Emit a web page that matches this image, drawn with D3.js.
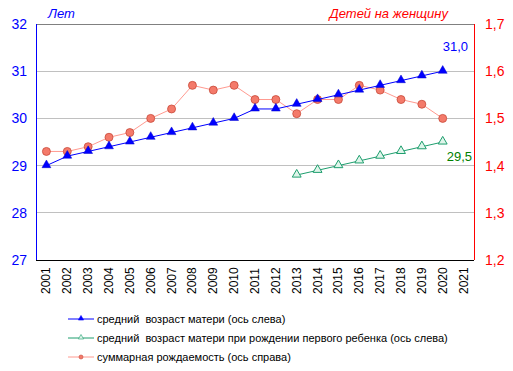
<!DOCTYPE html>
<html>
<head>
<meta charset="utf-8">
<script src="https://cdn.jsdelivr.net/npm/d3@7"></script>
<style>
  body { margin: 0; background: #fff; }
  svg { font-family: Arial, "Liberation Sans", sans-serif; display: block; }
</style>
</head>
<body>
<div id="chart"></div>
<script>
// ---- data ----
const years = d3.range(2001, 2022).map(String);
const motherAge = [29.0, 29.2, 29.3, 29.4, 29.5, 29.6, 29.7, 29.8, 29.9, 30.0,
                   30.2, 30.2, 30.3, 30.4, 30.5, 30.6, 30.7, 30.8, 30.9, 31.0];
const firstChildYears = ["2013", "2014", "2015", "2016", "2017", "2018", "2019", "2020"];
const firstChildAge = [28.8, 28.9, 29.0, 29.1, 29.2, 29.3, 29.4, 29.5];
const fertility = [1.43, 1.43, 1.44, 1.46, 1.47, 1.50, 1.52, 1.57, 1.56, 1.57,
                   1.54, 1.54, 1.51, 1.54, 1.54, 1.57, 1.56, 1.54, 1.53, 1.50];
const leftTicks = [27, 28, 29, 30, 31, 32];
const rightTicks = [1.2, 1.3, 1.4, 1.5, 1.6, 1.7];
const legendItems = [
  "средний  возраст матери (ось слева)",
  "средний  возраст матери при рождении первого ребенка (ось слева)",
  "суммарная рождаемость (ось справа)"
];

const fullW = 513, fullH = 371;
const plot = { left: 36, right: 474, top: 24, bottom: 260 };

const svg = d3.select("#chart").append("svg")
  .attr("width", fullW).attr("height", fullH);

const x = d3.scaleBand().domain(years).range([plot.left, plot.right]);
const yL = d3.scaleLinear().domain([27, 32]).range([plot.bottom, plot.top]);
const yR = d3.scaleLinear().domain([1.2, 1.7]).range([plot.bottom, plot.top]);
const cx = d => x(d) + x.bandwidth() / 2;
const fmt = v => d3.format(".1f")(v).replace(".", ",");

// gridlines
svg.append("g").selectAll("line").data(leftTicks.slice(1)).join("line")
  .attr("x1", plot.left).attr("x2", plot.right)
  .attr("y1", d => yL(d)).attr("y2", d => yL(d))
  .attr("stroke", d => d === 32 ? "#808080" : "#c0c0c0").attr("stroke-width", 1)
  .attr("shape-rendering", "crispEdges");

// axes lines
svg.append("line").attr("x1", plot.left).attr("x2", plot.left)
  .attr("y1", plot.top).attr("y2", plot.bottom).attr("stroke", "#0000ff")
  .attr("shape-rendering", "crispEdges");
svg.append("line").attr("x1", plot.right).attr("x2", plot.right)
  .attr("y1", plot.top).attr("y2", plot.bottom).attr("stroke", "#ff0000")
  .attr("shape-rendering", "crispEdges");
svg.append("line").attr("x1", plot.left).attr("x2", plot.right)
  .attr("y1", plot.bottom).attr("y2", plot.bottom).attr("stroke", "#000")
  .attr("shape-rendering", "crispEdges");

// tick labels
svg.append("g").selectAll("text").data(leftTicks).join("text")
  .attr("x", 27).attr("y", d => yL(d) + 5)
  .attr("text-anchor", "end").attr("fill", "#0000ff").style("font-size", "14px")
  .text(d => d);
svg.append("g").selectAll("text").data(rightTicks).join("text")
  .attr("x", 485).attr("y", d => yR(d) + 5)
  .attr("fill", "#ff0000").style("font-size", "14px")
  .text(d => fmt(d));

svg.append("g").selectAll("text").data(years).join("text")
  .attr("transform", d => `translate(${cx(d) + 4},294) rotate(-90)`)
  .attr("fill", "#000").style("font-size", "12px")
  .text(d => d);

// axis titles
svg.append("text").attr("x", 48).attr("y", 18)
  .attr("fill", "#0000ff").style("font-size", "13px").style("font-style", "italic")
  .text("Лет");
svg.append("text").attr("x", 448).attr("y", 18).attr("text-anchor", "end")
  .attr("fill", "#ff0000").style("font-size", "13px").style("font-style", "italic")
  .text("Детей на женщину");

// series
const tri = d3.symbol().type(d3.symbolTriangle).size(34);

// fertility (right axis)
const fData = fertility.map((v, i) => ({ year: years[i], v }));
svg.append("path").datum(fData)
  .attr("fill", "none").attr("stroke", "#ff9a90").attr("stroke-width", 1)
  .attr("d", d3.line().x(d => cx(d.year)).y(d => yR(d.v)));
svg.append("g").selectAll("circle").data(fData).join("circle")
  .attr("cx", d => cx(d.year)).attr("cy", d => yR(d.v)).attr("r", 4)
  .attr("fill", "#f47a6a").attr("stroke", "#c84a3a").attr("stroke-width", 0.8);

// mother age
const mData = motherAge.map((v, i) => ({ year: years[i], v }));
svg.append("path").datum(mData)
  .attr("fill", "none").attr("stroke", "#0000ff").attr("stroke-width", 1)
  .attr("d", d3.line().x(d => cx(d.year)).y(d => yL(d.v)));
svg.append("g").selectAll("path").data(mData).join("path")
  .attr("transform", d => `translate(${cx(d.year)},${yL(d.v) - 0.5})`)
  .attr("d", tri).attr("fill", "#0000ff").attr("stroke", "#0000cc").attr("stroke-width", 0.5);

// first child age
const gData = firstChildAge.map((v, i) => ({ year: firstChildYears[i], v }));
svg.append("path").datum(gData)
  .attr("fill", "none").attr("stroke", "#1e9e6e").attr("stroke-width", 1)
  .attr("d", d3.line().x(d => cx(d.year)).y(d => yL(d.v)));
svg.append("g").selectAll("path").data(gData).join("path")
  .attr("transform", d => `translate(${cx(d.year)},${yL(d.v) - 0.5})`)
  .attr("d", tri).attr("fill", "#dff5ea").attr("stroke", "#1e9e6e").attr("stroke-width", 1);

// end labels
svg.append("text").attr("x", 468).attr("y", yL(31.0) - 20)
  .attr("text-anchor", "end").attr("fill", "#0000ff").style("font-size", "13px")
  .text(fmt(motherAge[motherAge.length - 1]));
svg.append("text").attr("x", 472).attr("y", yL(29.5) + 19)
  .attr("text-anchor", "end").attr("fill", "#008000").style("font-size", "13px")
  .text(fmt(firstChildAge[firstChildAge.length - 1]));

// legend
const legendColors = ["#0000ff", "#1e9e6e", "#ff9a90"];
const lg = svg.append("g").selectAll("g").data(legendItems).join("g")
  .attr("transform", (d, i) => `translate(68,${319 + i * 19})`);
lg.append("line").attr("x1", 0).attr("x2", 26).attr("y1", 0).attr("y2", 0)
  .attr("stroke", (d, i) => legendColors[i]);
lg.each(function(d, i) {
  const g = d3.select(this);
  if (i === 2) {
    g.append("circle").attr("cx", 13).attr("cy", 0).attr("r", 2)
      .attr("fill", "#f47a6a").attr("stroke", "#c84a3a").attr("stroke-width", 0.6);
  } else {
    g.append("path").attr("transform", "translate(13,-0.5)")
      .attr("d", d3.symbol().type(d3.symbolTriangle).size(12))
      .attr("fill", i === 0 ? "#0000ff" : "#dff5ea")
      .attr("stroke", legendColors[i]).attr("stroke-width", 0.6);
  }
});
lg.append("text").attr("x", 29).attr("y", 4)
  .attr("fill", "#000").style("font-size", "11px")
  .style("white-space", "pre")
  .text(d => d);
</script>
</body>
</html>
